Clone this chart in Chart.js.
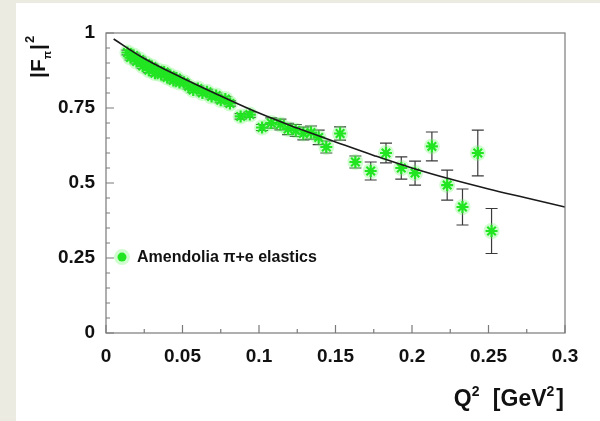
<!DOCTYPE html>
<html>
<head>
<meta charset="utf-8">
<script src="https://cdn.jsdelivr.net/npm/chart.js@4/dist/chart.umd.min.js"></script>
<style>
  html, body { margin: 0; padding: 0; background: #ecebe1; }
  #wrap { width: 600px; height: 421px; }
</style>
</head>
<body>
<div id="wrap"><canvas id="c" width="600" height="421"></canvas></div>
<script>
// ---- data ----
const seriesLabel = 'Amendolia π+e elastics';
const xTitleParts = ['Q', '2', ' [GeV', '2', ']'];
const yTitleMain = '|F';
const yTitleSub = 'π';
const yTitleBar = '|';
const yTitleSup = '2';

const xTickValues = [0, 0.05, 0.1, 0.15, 0.2, 0.25, 0.3];
const xTickLabels = ['0', '0.05', '0.1', '0.15', '0.2', '0.25', '0.3'];
const xMinorTicks = [0.025, 0.075, 0.125, 0.175, 0.225, 0.275];
const yTickValues = [0, 0.25, 0.5, 0.75, 1];
const yTickLabels = ['0', '0.25', '0.5', '0.75', '1'];
const yMinorTicks = [0.05, 0.1, 0.15, 0.2, 0.3, 0.35, 0.4, 0.45, 0.55, 0.6, 0.65, 0.7, 0.8, 0.85, 0.9, 0.95];

// fit curve
const curveQ = [0.005, 0.025, 0.05, 0.075, 0.1, 0.125, 0.15, 0.175, 0.2, 0.225, 0.25, 0.275, 0.3];
const curveF = [0.98, 0.915, 0.85, 0.79, 0.733, 0.683, 0.637, 0.592, 0.55, 0.513, 0.48, 0.45, 0.42];

// Amendolia pi+e elastic data points
const dataQ = [0.014, 0.016, 0.018, 0.020, 0.022, 0.024, 0.026, 0.028, 0.030, 0.032,
               0.034, 0.036, 0.038, 0.040, 0.042, 0.044, 0.046, 0.048, 0.051, 0.054,
               0.057, 0.060, 0.063, 0.066, 0.069, 0.072, 0.075, 0.078, 0.081, 0.088,
               0.094, 0.102, 0.108, 0.114, 0.119, 0.124, 0.129, 0.134, 0.139, 0.144,
               0.153, 0.163, 0.173, 0.183, 0.193, 0.202, 0.213, 0.223, 0.233, 0.243, 0.252];
const dataF = [0.935, 0.918, 0.925, 0.905, 0.912, 0.890, 0.898, 0.876, 0.888, 0.866,
               0.875, 0.862, 0.870, 0.852, 0.858, 0.842, 0.850, 0.835, 0.836, 0.822,
               0.810, 0.815, 0.800, 0.804, 0.788, 0.792, 0.776, 0.780, 0.765, 0.722,
               0.728, 0.685, 0.700, 0.695, 0.680, 0.675, 0.665, 0.668, 0.652, 0.620,
               0.665, 0.570, 0.540, 0.600, 0.550, 0.533, 0.622, 0.493, 0.420, 0.600, 0.340];
const dataErr = [0.008, 0.008, 0.008, 0.008, 0.008, 0.008, 0.008, 0.008, 0.008, 0.008,
                 0.008, 0.008, 0.008, 0.008, 0.008, 0.008, 0.008, 0.008, 0.008, 0.008,
                 0.008, 0.008, 0.008, 0.008, 0.008, 0.008, 0.008, 0.008, 0.009, 0.009,
                 0.009, 0.010, 0.017, 0.018, 0.019, 0.020, 0.021, 0.022, 0.024, 0.020,
                 0.022, 0.020, 0.030, 0.033, 0.037, 0.040, 0.048, 0.050, 0.060, 0.076, 0.075];

// ---- build chart ----
const points = dataQ.map((q, i) => ({ x: q, y: dataF[i] }));
const curve = curveQ.map((q, i) => ({ x: q, y: curveF[i] }));

const FAMILY = '"Liberation Sans", Arial, Helvetica, sans-serif';
const TICK_FONT = { family: FAMILY, weight: 'bold', size: 19 };
const GREEN = '#22e522';
const HALO = 'rgba(110,245,110,0.32)';
const AXIS = '#7a7a7a';

const decor = {
  id: 'decor',
  beforeDraw(chart) {
    const ctx = chart.ctx;
    ctx.save();
    ctx.fillStyle = '#ecebe1';
    ctx.fillRect(0, 0, chart.width, chart.height);
    ctx.fillStyle = '#ffffff';
    ctx.fillRect(16, 3, chart.width - 16, chart.height - 3);
    ctx.restore();
  },
  beforeDatasetsDraw(chart) {
    const ctx = chart.ctx;
    const xs = chart.scales.x, ys = chart.scales.y;
    ctx.save();
    ctx.strokeStyle = '#3a3a3a';
    ctx.lineWidth = 1.2;
    dataQ.forEach((q, i) => {
      const px = xs.getPixelForValue(q);
      const pTop = ys.getPixelForValue(dataF[i] + dataErr[i]);
      const pBot = ys.getPixelForValue(dataF[i] - dataErr[i]);
      ctx.beginPath();
      ctx.moveTo(px, pTop); ctx.lineTo(px, pBot);
      ctx.moveTo(px - 6, pTop); ctx.lineTo(px + 6, pTop);
      ctx.moveTo(px - 6, pBot); ctx.lineTo(px + 6, pBot);
      ctx.stroke();
    });
    ctx.restore();
  },
  afterDraw(chart) {
    const ctx = chart.ctx;
    const a = chart.chartArea;
    const xs = chart.scales.x, ys = chart.scales.y;
    ctx.save();
    // frame
    ctx.strokeStyle = AXIS;
    ctx.lineWidth = 1.2;
    ctx.strokeRect(a.left, a.top, a.right - a.left, a.bottom - a.top);
    // inward ticks
    ctx.beginPath();
    xTickValues.forEach(v => { const p = xs.getPixelForValue(v); ctx.moveTo(p, a.bottom); ctx.lineTo(p, a.bottom - 8); });
    xMinorTicks.forEach(v => { const p = xs.getPixelForValue(v); ctx.moveTo(p, a.bottom); ctx.lineTo(p, a.bottom - 4); });
    yTickValues.forEach(v => { const p = ys.getPixelForValue(v); ctx.moveTo(a.left, p); ctx.lineTo(a.left + 8, p); });
    yMinorTicks.forEach(v => { const p = ys.getPixelForValue(v); ctx.moveTo(a.left, p); ctx.lineTo(a.left + 4, p); });
    ctx.stroke();

    // legend entry
    const lx = 122, ly = ys.getPixelForValue(0.253);
    ctx.fillStyle = HALO;
    ctx.beginPath(); ctx.arc(lx, ly, 8, 0, Math.PI * 2); ctx.fill();
    ctx.fillStyle = GREEN;
    ctx.beginPath(); ctx.arc(lx, ly, 4.5, 0, Math.PI * 2); ctx.fill();
    ctx.fillStyle = '#111';
    ctx.font = 'bold 16px ' + FAMILY;
    ctx.textBaseline = 'middle';
    ctx.textAlign = 'left';
    ctx.fillText(seriesLabel, 137, ly);

    // x title with superscripts, right aligned at the frame
    const big = 'bold 23px ' + FAMILY, small = 'bold 14px ' + FAMILY;
    const fonts = [big, small, big, small, big];
    const dy = [0, -10, 0, -10, 0];
    const gapBefore = [0, 0, 7, 0, 2];
    let total = 0;
    xTitleParts.forEach((t, i) => { ctx.font = fonts[i]; total += ctx.measureText(t).width + gapBefore[i]; });
    let xx = a.right - 1 - total;
    ctx.textAlign = 'left';
    ctx.textBaseline = 'alphabetic';
    xTitleParts.forEach((t, i) => {
      ctx.font = fonts[i];
      xx += gapBefore[i];
      ctx.fillText(t, xx, 406 + dy[i]);
      xx += ctx.measureText(t).width;
    });

    // y title (rotated)
    ctx.translate(45, 78);
    ctx.rotate(-Math.PI / 2);
    ctx.textAlign = 'left';
    ctx.textBaseline = 'alphabetic';
    ctx.font = 'bold 21px ' + FAMILY;
    let x = 0;
    ctx.fillText(yTitleMain, x, 0);
    x += ctx.measureText(yTitleMain).width;
    ctx.font = 'bold 11px ' + FAMILY;
    ctx.fillText(yTitleSub, x, 6);
    x += ctx.measureText(yTitleSub).width + 1;
    ctx.font = 'bold 21px ' + FAMILY;
    ctx.fillText(yTitleBar, x, 0);
    x += ctx.measureText(yTitleBar).width + 1;
    ctx.font = 'bold 13px ' + FAMILY;
    ctx.fillText(yTitleSup, x, -11);
    ctx.restore();
  }
};

new Chart(document.getElementById('c'), {
  type: 'scatter',
  data: {
    datasets: [
      {
        type: 'line',
        label: 'fit',
        data: curve,
        borderColor: '#1a1a1a',
        borderWidth: 1.6,
        pointRadius: 0,
        tension: 0.4,
        fill: false
      },
      {
        label: seriesLabel,
        data: points,
        pointStyle: 'star',
        radius: 6,
        borderColor: GREEN,
        borderWidth: 2.2,
        backgroundColor: GREEN
      },
      {
        label: 'halo',
        data: points,
        pointStyle: 'circle',
        radius: 8,
        borderWidth: 0,
        backgroundColor: HALO
      }
    ]
  },
  options: {
    responsive: false,
    animation: false,
    events: [],
    layout: { padding: { left: 0, top: 33, right: 35, bottom: 0 } },
    plugins: { legend: { display: false }, tooltip: { enabled: false } },
    scales: {
      x: {
        type: 'linear',
        min: 0, max: 0.3,
        afterFit(s) { s.height = 88; },
        afterBuildTicks(s) { s.ticks = xTickValues.map(v => ({ value: v })); },
        grid: { display: false, drawTicks: false },
        border: { display: false },
        ticks: {
          color: '#111',
          font: TICK_FONT,
          padding: 12,
          maxRotation: 0,
          autoSkip: false,
          callback: (v, i) => xTickLabels[i]
        }
      },
      y: {
        type: 'linear',
        min: 0, max: 1,
        afterFit(s) { s.width = 106; },
        afterBuildTicks(s) { s.ticks = yTickValues.map(v => ({ value: v })); },
        grid: { display: false, drawTicks: false },
        border: { display: false },
        ticks: {
          color: '#111',
          font: TICK_FONT,
          padding: 11,
          autoSkip: false,
          callback: (v, i) => yTickLabels[i]
        }
      }
    }
  },
  plugins: [decor]
});
</script>
</body>
</html>
